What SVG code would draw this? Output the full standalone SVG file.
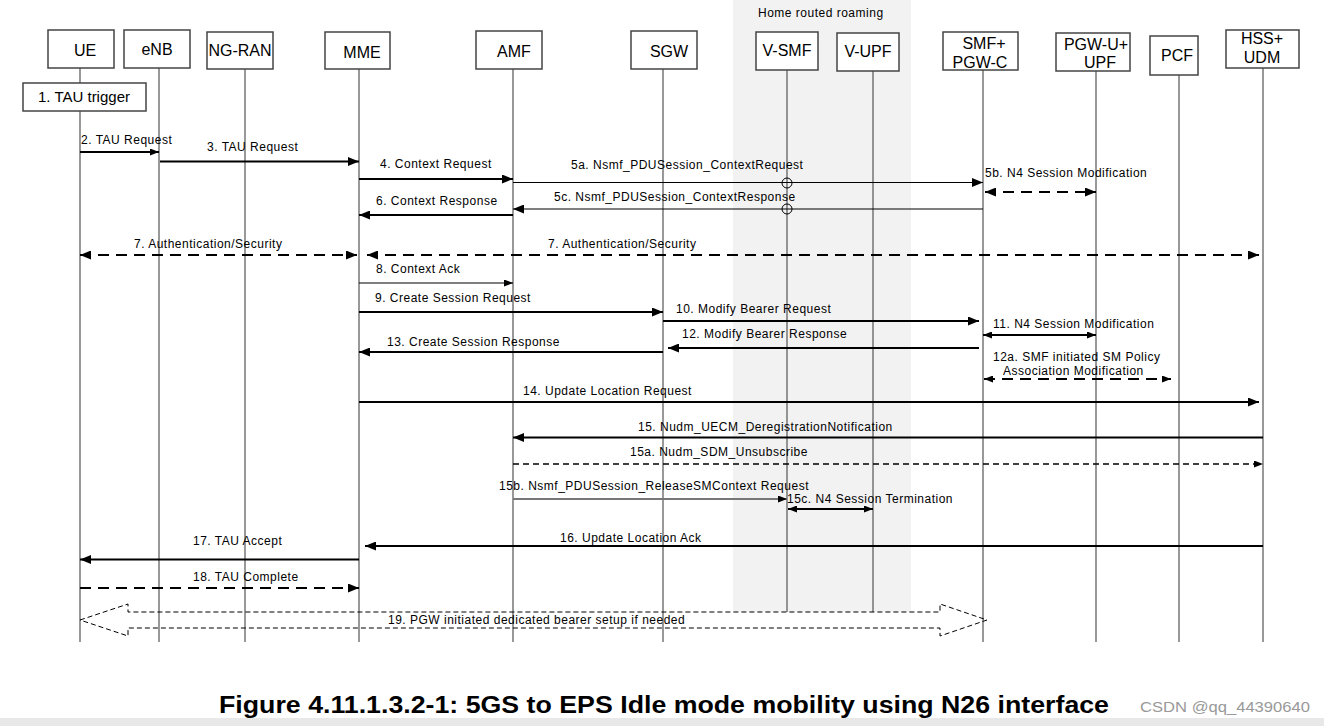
<svg xmlns="http://www.w3.org/2000/svg" width="1324" height="726" viewBox="0 0 1324 726">
<style>
text{font-family:"Liberation Sans",Arial,sans-serif;fill:#000}
.box{fill:#fff;stroke:#444;stroke-width:1.5}
.bt{font-size:16px;text-anchor:middle}
.life{stroke:#555;stroke-width:1.2;fill:none}
.lbl{font-size:12px;letter-spacing:0.5px}
.m{stroke:#000;stroke-width:2;fill:none}
.mt{stroke:#000;stroke-width:1.2;fill:none}
.d{stroke:#000;stroke-width:2;fill:none;stroke-dasharray:11 7}
.ds{stroke:#000;stroke-width:1.3;fill:none;stroke-dasharray:6 4}
</style>
<defs>
<marker id="a" markerUnits="userSpaceOnUse" markerWidth="11" markerHeight="9" refX="11" refY="4.5" orient="auto-start-reverse"><path d="M0,0 L11,4.5 L0,9 z" fill="#000"/></marker>
<marker id="as" markerUnits="userSpaceOnUse" markerWidth="9" markerHeight="7" refX="9" refY="3.5" orient="auto-start-reverse"><path d="M0,0 L9,3.5 L0,7 z" fill="#000"/></marker>
</defs>
<rect x="0" y="0" width="1324" height="726" fill="#fff"/>
<rect x="733" y="0" width="178" height="612" fill="#f2f2f2"/>
<text x="758" y="17" class="lbl">Home routed roaming</text>
<rect x="0" y="718" width="1324" height="8" fill="#e8e8e8"/>

<g id="lifelines">
<path class="life" d="M80,68V83 M80,111V642 M159,68V642 M245,69V642 M359,69V642 M513,69V642 M663,69V642 M787,70V612 M873,71V612 M983,70V642 M1096,71V642 M1179,75V642 M1263,68V642"/>
</g>

<g id="node-ue"><rect class="box" x="48" y="30" width="66" height="38"/><text class="bt" x="85" y="56">UE</text></g>
<g id="node-enb"><rect class="box" x="124" y="30" width="66" height="38"/><text class="bt" x="157" y="55">eNB</text></g>
<g id="node-ngran"><rect class="box" x="207" y="32" width="66" height="37"/><text class="bt" x="240" y="56">NG-RAN</text></g>
<g id="node-mme"><rect class="box" x="325" y="32" width="65" height="37"/><text class="bt" x="362" y="58">MME</text></g>
<g id="node-amf"><rect class="box" x="476" y="31" width="66" height="38"/><text class="bt" x="514" y="57">AMF</text></g>
<g id="node-sgw"><rect class="box" x="631" y="31" width="66" height="38"/><text class="bt" x="669" y="57">SGW</text></g>
<g id="node-vsmf"><rect class="box" x="756" y="32" width="62" height="38"/><text class="bt" x="787" y="56">V-SMF</text></g>
<g id="node-vupf"><rect class="box" x="837" y="33" width="62" height="38"/><text class="bt" x="868" y="57">V-UPF</text></g>
<g id="node-smf"><rect class="box" x="943" y="32" width="75" height="38"/><text class="bt" x="984" y="49">SMF+</text><text class="bt" x="980" y="68">PGW-C</text></g>
<g id="node-pgwu"><rect class="box" x="1056" y="33" width="74" height="38"/><text class="bt" x="1096" y="50">PGW-U+</text><text class="bt" x="1100" y="68">UPF</text></g>
<g id="node-pcf"><rect class="box" x="1150" y="36" width="48" height="39"/><text class="bt" x="1177" y="61">PCF</text></g>
<g id="node-hss"><rect class="box" x="1226" y="30" width="73" height="38"/><text class="bt" x="1262" y="44">HSS+</text><text class="bt" x="1262" y="63">UDM</text></g>
<g id="node-tau-trigger"><rect class="box" x="23" y="83" width="123" height="28"/><text x="84" y="102" style="font-size:15px;text-anchor:middle">1. TAU trigger</text></g>

<g id="connectors">
<line class="m" x1="80" y1="152" x2="159" y2="152" marker-end="url(#as)"/>
<text class="lbl" x="81" y="144">2. TAU Request</text>
<line class="m" x1="160" y1="161.5" x2="359" y2="161.5" marker-end="url(#a)"/>
<text class="lbl" x="207" y="151">3. TAU Request</text>
<line class="m" x1="359" y1="179" x2="513" y2="179" marker-end="url(#a)"/>
<text class="lbl" x="380" y="168">4. Context Request</text>
<line class="mt" x1="513" y1="182.5" x2="983" y2="182.5" marker-end="url(#a)"/>
<text class="lbl" x="571" y="169">5a. Nsmf_PDUSession_ContextRequest</text>
<circle cx="787" cy="183" r="5" fill="none" stroke="#000" stroke-width="1"/>
<line class="d" x1="985" y1="192" x2="1096" y2="192" marker-start="url(#a)" marker-end="url(#a)"/>
<text class="lbl" x="985" y="177">5b. N4 Session Modification</text>
<line class="mt" x1="983" y1="209" x2="513" y2="209" marker-end="url(#a)"/>
<text class="lbl" x="554" y="201">5c. Nsmf_PDUSession_ContextResponse</text>
<circle cx="787" cy="209" r="5" fill="none" stroke="#000" stroke-width="1"/>
<line class="m" x1="513" y1="215" x2="359" y2="215" marker-end="url(#a)"/>
<text class="lbl" x="376" y="205">6. Context Response</text>
<line class="d" x1="80" y1="255" x2="357" y2="255" marker-start="url(#a)" marker-end="url(#a)"/>
<text class="lbl" x="134" y="248">7. Authentication/Security</text>
<line class="d" x1="367" y1="255" x2="1259" y2="255" marker-start="url(#a)" marker-end="url(#a)"/>
<text class="lbl" x="548" y="248">7. Authentication/Security</text>
<line class="mt" x1="359" y1="283" x2="513" y2="283" stroke-width="1.6" marker-end="url(#as)"/>
<text class="lbl" x="376" y="273">8. Context Ack</text>
<line class="m" x1="359" y1="312" x2="663" y2="312" marker-end="url(#a)"/>
<text class="lbl" x="375" y="302">9. Create Session Request</text>
<line class="m" x1="663" y1="321" x2="979" y2="321" marker-end="url(#a)"/>
<text class="lbl" x="676" y="313">10. Modify Bearer Request</text>
<line class="m" x1="983" y1="335" x2="1096" y2="335" stroke-width="1.6" marker-start="url(#as)" marker-end="url(#as)"/>
<text class="lbl" x="993" y="328">11. N4 Session Modification</text>
<line class="m" x1="979" y1="348" x2="668" y2="348" marker-end="url(#a)"/>
<text class="lbl" x="682" y="338">12. Modify Bearer Response</text>
<line class="m" x1="663" y1="352" x2="359" y2="352" marker-end="url(#a)"/>
<text class="lbl" x="387" y="346">13. Create Session Response</text>
<line class="d" x1="984" y1="379" x2="1171" y2="379" stroke-width="1.6" marker-start="url(#as)" marker-end="url(#as)"/>
<text class="lbl" x="993" y="361">12a. SMF initiated SM Policy</text>
<text class="lbl" x="1003" y="375">Association Modification</text>
<line class="m" x1="359" y1="402" x2="1259" y2="402" marker-end="url(#a)"/>
<text class="lbl" x="523" y="395">14. Update Location Request</text>
<line class="m" x1="1263" y1="437.5" x2="513" y2="437.5" marker-end="url(#a)"/>
<text class="lbl" x="638" y="431">15. Nudm_UECM_DeregistrationNotification</text>
<line class="ds" x1="513" y1="464" x2="1263" y2="464" marker-end="url(#as)"/>
<text class="lbl" x="630" y="456">15a. Nudm_SDM_Unsubscribe</text>
<line x1="513" y1="499" x2="787" y2="499" stroke="#777" stroke-width="2.2" marker-end="url(#as)"/>
<text class="lbl" x="499" y="490">15b. Nsmf_PDUSession_ReleaseSMContext Request</text>
<line class="m" x1="788" y1="509" x2="873" y2="509" stroke-width="1.6" marker-start="url(#as)" marker-end="url(#as)"/>
<text class="lbl" x="787" y="503">15c. N4 Session Termination</text>
<line class="m" x1="1263" y1="546" x2="365" y2="546" marker-end="url(#a)"/>
<text class="lbl" x="560" y="542">16. Update Location Ack</text>
<line class="m" x1="359" y1="559.5" x2="80" y2="559.5" marker-end="url(#a)"/>
<text class="lbl" x="193" y="545">17. TAU Accept</text>
<line class="d" x1="80" y1="588" x2="359" y2="588" marker-end="url(#a)"/>
<text class="lbl" x="193" y="581">18. TAU Complete</text>
<path d="M80,620 L128,604 L128,612 L940,612 L940,604 L987,620 L940,636 L940,628 L128,628 L128,636 Z" fill="none" stroke="#000" stroke-width="1" stroke-dasharray="5 3"/>
<text class="lbl" x="388" y="624">19. PGW initiated dedicated bearer setup if needed</text>
</g>

<text x="219" y="713" textLength="890" lengthAdjust="spacingAndGlyphs" style="font-size:23px;font-weight:bold">Figure 4.11.1.3.2-1: 5GS to EPS Idle mode mobility using N26 interface</text>
<text x="1140" y="712" textLength="170" lengthAdjust="spacingAndGlyphs" style="font-size:15px;fill:#999">CSDN @qq_44390640</text>
</svg>
